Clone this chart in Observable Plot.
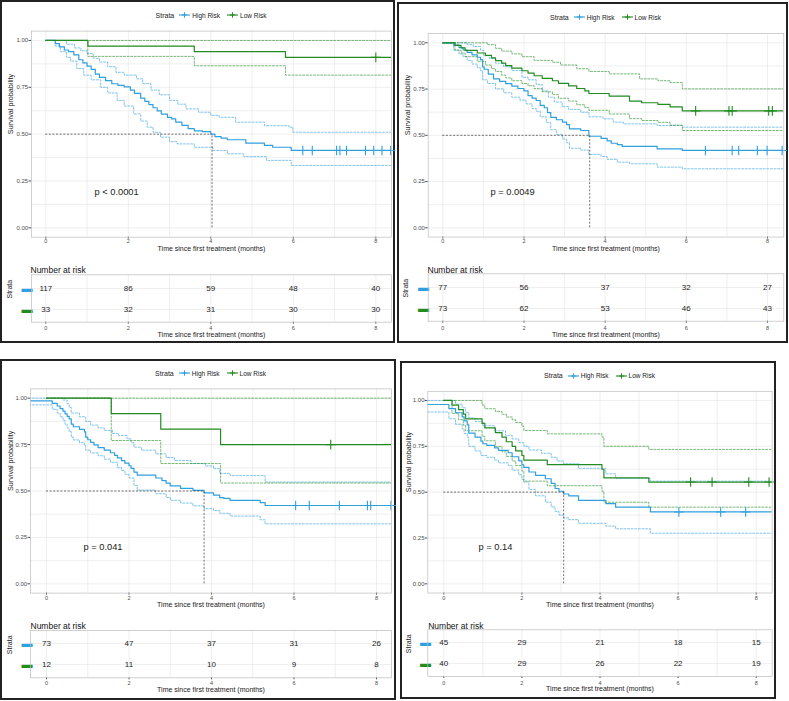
<!DOCTYPE html>
<html><head><meta charset="utf-8">
<script src="https://cdn.jsdelivr.net/npm/d3@7"></script>
<script src="https://cdn.jsdelivr.net/npm/@observablehq/plot@0.6"></script>
<style>
body{margin:0;background:#fff;font-family:"Liberation Sans",Arial,sans-serif;}
#root{position:relative;width:789px;height:701px;overflow:hidden;background:#fff;}
.box{position:absolute;border:2px solid #222;box-sizing:border-box;}
.pl{position:absolute;}
.leg{position:absolute;display:flex;align-items:center;justify-content:center;font-family:"Liberation Sans",Arial,sans-serif;color:#1a1a1a;}
</style></head><body><div id="root"></div>
<script>
// ---------- data ----------
const strata = ["High Risk", "Low Risk"];
const blue = "#2E9FDF", green = "#228B22";
const gridTimes = [0,1,2,3,4,5,6,7,8];
const gridSurv = [0,0.125,0.25,0.375,0.5,0.625,0.75,0.875,1];
const tickTimes = [0,2,4,6,8];
const tickSurv = [0,0.25,0.5,0.75,1];
const riskTimes = [0,2,4,6,8];
const pvals = ["p < 0.0001","p = 0.0049","p = 0.041","p = 0.14"];
const medians = [4.03, 3.62, 3.82, 3.07];

// Panel A
const aHigh = [[0,1],[0.23,0.983],[0.33,0.966],[0.45,0.949],[0.55,0.94],[0.68,0.923],[0.8,0.897],[0.9,0.88],[1.0,0.863],[1.1,0.846],[1.2,0.82],[1.3,0.803],[1.45,0.786],[1.6,0.769],[1.75,0.76],[1.9,0.752],[2.05,0.735],[2.15,0.718],[2.3,0.692],[2.4,0.675],[2.5,0.658],[2.6,0.641],[2.7,0.624],[2.8,0.607],[2.95,0.59],[3.05,0.581],[3.15,0.564],[3.3,0.547],[3.45,0.53],[3.6,0.517],[3.8,0.513],[4.0,0.5],[4.1,0.487],[4.25,0.479],[4.4,0.47],[4.85,0.452],[5.3,0.44],[5.5,0.43],[5.95,0.413],[8.6,0.413]];
const aHighUpper = [[0,1],[0.5,0.98],[0.7,0.96],[0.85,0.945],[1.0,0.93],[1.15,0.905],[1.3,0.885],[1.5,0.86],[1.7,0.83],[1.9,0.815],[2.2,0.795],[2.35,0.77],[2.55,0.735],[2.75,0.71],[3.0,0.68],[3.2,0.66],[3.4,0.635],[3.7,0.617],[4.0,0.6],[4.2,0.59],[4.6,0.564],[5.3,0.545],[5.9,0.537],[5.99,0.51],[8.6,0.51]];
const aHighLower = [[0,1],[0.23,0.97],[0.35,0.94],[0.5,0.91],[0.6,0.89],[0.75,0.85],[0.92,0.815],[1.1,0.79],[1.33,0.75],[1.5,0.72],[1.73,0.68],[1.9,0.65],[2.13,0.608],[2.3,0.57],[2.46,0.537],[2.6,0.51],[2.78,0.484],[3.0,0.46],[3.18,0.448],[3.6,0.43],[4.05,0.413],[4.4,0.395],[4.8,0.38],[5.35,0.36],[5.95,0.333],[8.6,0.333]];
const aLow = [[0,1],[1.02,0.97],[3.6,0.94],[5.81,0.91],[8.6,0.91]];
const aLowUpper = [[0,1],[8.6,1]];
const aLowLower = [[0,1],[1.02,0.915],[3.6,0.865],[5.81,0.815],[8.6,0.815]];
const aHighCensor = [6.23,6.46,7.05,7.13,7.29,7.75,7.95,8.15,8.36];
const aLowCensor = [8.0];
const aRiskHigh = [117,86,59,48,40];
const aRiskLow = [33,32,31,30,30];

// Panel B
const bHigh = [[0,1],[0.27,0.987],[0.4,0.974],[0.5,0.961],[0.6,0.948],[0.72,0.935],[0.85,0.922],[0.93,0.909],[0.98,0.87],[1.02,0.857],[1.12,0.831],[1.25,0.805],[1.4,0.792],[1.55,0.779],[1.7,0.766],[1.85,0.753],[2.0,0.74],[2.1,0.714],[2.2,0.701],[2.3,0.688],[2.4,0.662],[2.5,0.649],[2.58,0.623],[2.66,0.597],[2.8,0.584],[2.95,0.571],[3.05,0.558],[3.12,0.535],[3.4,0.526],[3.6,0.495],[3.9,0.483],[4.05,0.47],[4.15,0.457],[4.3,0.45],[4.42,0.44],[5.28,0.427],[5.9,0.418],[8.6,0.418]];
const bHighUpper = [[0,1],[0.6,0.99],[0.75,0.98],[0.93,0.96],[1.0,0.93],[1.15,0.915],[1.3,0.89],[1.5,0.87],[1.7,0.85],[1.95,0.814],[2.1,0.8],[2.3,0.775],[2.45,0.74],[2.6,0.706],[2.75,0.68],[2.94,0.655],[3.1,0.64],[3.4,0.625],[3.6,0.6],[3.95,0.589],[4.2,0.571],[4.45,0.562],[5.28,0.553],[5.9,0.544],[8.6,0.544]];
const bHighLower = [[0,1],[0.27,0.96],[0.4,0.94],[0.5,0.925],[0.6,0.905],[0.72,0.885],[0.85,0.865],[0.93,0.85],[0.98,0.8],[1.1,0.78],[1.3,0.751],[1.5,0.73],[1.7,0.706],[1.9,0.69],[2.05,0.67],[2.2,0.645],[2.3,0.63],[2.4,0.6],[2.55,0.57],[2.66,0.53],[2.8,0.505],[2.95,0.48],[3.05,0.46],[3.12,0.43],[3.4,0.42],[3.6,0.396],[3.9,0.385],[4.05,0.37],[4.3,0.355],[4.6,0.346],[5.28,0.328],[5.9,0.319],[8.6,0.319]];
const bLow = [[0,1],[0.3,0.986],[0.45,0.973],[0.55,0.959],[0.85,0.945],[1.05,0.932],[1.2,0.918],[1.3,0.904],[1.45,0.89],[1.55,0.877],[1.7,0.863],[1.95,0.849],[2.1,0.836],[2.25,0.822],[2.45,0.808],[2.7,0.795],[2.85,0.781],[3.1,0.767],[3.3,0.753],[3.5,0.74],[3.6,0.726],[4.1,0.712],[4.6,0.685],[4.9,0.676],[5.3,0.667],[5.6,0.654],[5.9,0.632],[8.6,0.632]];
const bLowUpper = [[0,1],[1.1,0.99],[1.3,0.97],[1.45,0.955],[1.7,0.94],[1.95,0.925],[2.25,0.905],[2.7,0.895],[2.9,0.88],[3.3,0.86],[3.6,0.845],[4.1,0.832],[4.85,0.805],[5.3,0.795],[5.6,0.785],[5.9,0.751],[8.6,0.751]];
const bLowLower = [[0,1],[0.3,0.96],[0.45,0.945],[0.55,0.925],[0.85,0.9],[1.05,0.88],[1.2,0.86],[1.3,0.845],[1.45,0.825],[1.55,0.81],[1.7,0.795],[1.95,0.78],[2.1,0.768],[2.25,0.752],[2.45,0.735],[2.7,0.72],[2.85,0.7],[3.1,0.685],[3.3,0.665],[3.5,0.65],[3.6,0.635],[4.1,0.615],[4.6,0.59],[4.9,0.58],[5.3,0.57],[5.6,0.555],[5.9,0.526],[8.6,0.526]];
const bHighCensor = [6.47,7.13,7.29,7.75,7.99,8.36];
const bLowCensor = [6.23,7.05,7.13,8.03,8.12];
const bRiskHigh = [77,56,37,32,27];
const bRiskLow = [73,62,53,46,43];

// Panel C
const cHigh = [[-0.6,0.986],[0.14,0.972],[0.26,0.958],[0.33,0.944],[0.4,0.93],[0.45,0.916],[0.5,0.902],[0.55,0.888],[0.6,0.86],[0.65,0.846],[0.8,0.832],[0.92,0.818],[0.95,0.79],[1.0,0.776],[1.07,0.762],[1.15,0.748],[1.25,0.734],[1.4,0.72],[1.55,0.706],[1.65,0.692],[1.72,0.678],[1.82,0.664],[1.9,0.65],[2.0,0.636],[2.05,0.622],[2.12,0.602],[2.2,0.585],[2.65,0.57],[2.8,0.556],[2.9,0.542],[3.0,0.528],[3.25,0.514],[3.55,0.503],[3.82,0.49],[4.05,0.478],[4.2,0.464],[4.3,0.46],[4.45,0.449],[5.18,0.437],[5.3,0.422],[8.6,0.422]];
const cHighUpper = [[-0.6,1],[0.4,0.99],[0.5,0.97],[0.55,0.95],[0.6,0.92],[0.8,0.9],[0.95,0.875],[1.07,0.855],[1.25,0.84],[1.4,0.826],[1.6,0.81],[1.75,0.799],[1.95,0.781],[2.05,0.76],[2.12,0.736],[2.3,0.72],[2.65,0.7],[2.9,0.68],[3.1,0.664],[3.5,0.648],[3.85,0.635],[4.05,0.62],[4.2,0.595],[4.45,0.583],[5.3,0.548],[8.6,0.548]];
const cHighLower = [[-0.6,0.964],[0.14,0.94],[0.26,0.92],[0.33,0.9],[0.4,0.88],[0.45,0.86],[0.5,0.84],[0.55,0.82],[0.6,0.79],[0.65,0.775],[0.8,0.76],[0.92,0.745],[0.95,0.72],[1.07,0.705],[1.25,0.69],[1.4,0.672],[1.55,0.655],[1.72,0.625],[1.82,0.61],[1.9,0.59],[2.0,0.57],[2.12,0.53],[2.2,0.505],[2.65,0.485],[2.9,0.465],[3.0,0.45],[3.25,0.435],[3.55,0.42],[3.82,0.405],[4.05,0.395],[4.2,0.38],[4.45,0.365],[5.18,0.345],[5.3,0.323],[8.6,0.323]];
const cLow = [[0,1],[1.57,0.917],[2.77,0.833],[4.22,0.75],[8.6,0.75]];
const cLowUpper = [[0,1],[8.6,1]];
const cLowLower = [[0,1],[1.57,0.772],[2.77,0.648],[4.22,0.543],[8.6,0.543]];
const cHighCensor = [6.04,6.37,7.1,7.78,7.86,8.35];
const cLowCensor = [6.89];
const cRiskHigh = [73,47,37,31,26];
const cRiskLow = [12,11,10,9,8];

// Panel D
const dHigh = [[-0.6,0.978],[0.13,0.956],[0.3,0.933],[0.47,0.911],[0.52,0.889],[0.6,0.867],[0.64,0.822],[0.8,0.8],[0.95,0.778],[1.0,0.764],[1.1,0.755],[1.3,0.742],[1.4,0.728],[1.65,0.715],[1.75,0.693],[1.92,0.671],[2.0,0.649],[2.05,0.635],[2.18,0.61],[2.35,0.592],[2.6,0.573],[2.75,0.548],[2.85,0.52],[2.95,0.505],[3.07,0.49],[3.2,0.48],[3.45,0.455],[4.15,0.437],[4.4,0.418],[5.29,0.392],[8.6,0.392]];
const dHighUpper = [[-0.6,1],[0.3,0.98],[0.47,0.96],[0.56,0.935],[0.64,0.905],[0.8,0.885],[1.0,0.862],[1.3,0.835],[1.58,0.81],[1.75,0.79],[1.92,0.77],[2.05,0.75],[2.18,0.73],[2.5,0.712],[2.75,0.69],[2.9,0.67],[3.07,0.655],[3.45,0.63],[4.15,0.6],[4.4,0.575],[5.29,0.56],[8.6,0.56]];
const dHighLower = [[-0.6,0.937],[0.13,0.9],[0.3,0.87],[0.47,0.845],[0.52,0.82],[0.6,0.8],[0.64,0.75],[0.8,0.725],[0.95,0.7],[1.1,0.69],[1.3,0.675],[1.4,0.66],[1.65,0.645],[1.75,0.62],[1.92,0.595],[2.0,0.57],[2.05,0.555],[2.18,0.515],[2.35,0.48],[2.6,0.445],[2.75,0.42],[2.85,0.395],[2.95,0.375],[3.07,0.36],[3.2,0.35],[3.45,0.33],[4.15,0.315],[4.4,0.3],[5.29,0.276],[8.6,0.276]];
const dLow = [[0,1],[0.21,0.975],[0.38,0.95],[0.5,0.925],[0.56,0.9],[0.98,0.875],[1.05,0.85],[1.32,0.825],[1.49,0.8],[1.6,0.775],[1.75,0.75],[1.84,0.725],[2.0,0.7],[2.05,0.675],[2.65,0.65],[4.05,0.625],[4.1,0.578],[5.25,0.555],[8.6,0.555]];
const dLowUpper = [[0,1],[0.98,0.975],[1.05,0.955],[1.32,0.94],[1.49,0.925],[1.6,0.91],[1.75,0.895],[1.84,0.88],[2.0,0.86],[2.05,0.836],[2.65,0.818],[4.05,0.8],[4.1,0.75],[5.25,0.733],[8.6,0.733]];
const dLowLower = [[0,1],[0.21,0.93],[0.38,0.895],[0.5,0.865],[0.56,0.835],[0.98,0.805],[1.05,0.78],[1.32,0.75],[1.49,0.72],[1.6,0.695],[1.75,0.67],[1.84,0.645],[2.0,0.615],[2.05,0.56],[2.65,0.535],[4.05,0.505],[4.1,0.445],[5.25,0.418],[8.6,0.418]];
const dHighCensor = [6.02,7.09,7.73];
const dLowCensor = [6.32,6.87,7.81,8.33];
const dRiskHigh = [45,29,21,18,15];
const dRiskLow = [40,29,26,22,19];

// ---------- layout (pixels) ----------
const geoms = [
 {box:[0,0,395,343], x0:45.3, x8:375.3, plotL:31, plotR:391, plotT:30.6, plotB:236.7, legendY:15, yTitleX:9.7, xTickY:240.7, xTitleY:250.9, narY:266, narX:30, tabT:274.3, tabB:321.7, tabTickY:328.0, tabTitleY:336.3, strataX:9.3, barX:21, pX:94, pY:191.7},
 {box:[397,2,788,343], x0:442.3, x8:767, plotL:427.7, plotR:783.3, plotT:33.05, plotB:236.55, legendY:17.3, yTitleX:406.7, xTickY:240.9, xTitleY:250.9, narY:266, narX:427, tabT:273.3, tabB:320.7, tabTickY:328.0, tabTitleY:336.3, strataX:405, barX:417.5, pX:490, pY:191.7},
 {box:[0,359,396,700], x0:46, x8:376, plotL:30, plotR:391, plotT:388.4, plotB:592.6, legendY:373.3, yTitleX:10, xTickY:598.0, xTitleY:606.3, narY:622.3, narX:30, tabT:630, tabB:677.3, tabTickY:683.0, tabTitleY:691, strataX:9.3, barX:21, pX:83, pY:547},
 {box:[400,361,776,699], x0:443.3, x8:755.7, plotL:427.3, plotR:771.7, plotT:390.8, plotB:592.5, legendY:375.7, yTitleX:408.3, xTickY:598.0, xTitleY:606.3, narY:622.3, narX:427.7, tabT:629.3, tabB:676, tabTickY:683.0, tabTitleY:690.5, strataX:408.3, barX:419.5, pX:478, pY:547}
];

const panels = [
 {high:aHigh, highUp:aHighUpper, highLo:aHighLower, low:aLow, lowUp:aLowUpper, lowLo:aLowLower, censHigh:aHighCensor, censLow:aLowCensor, riskHigh:aRiskHigh, riskLow:aRiskLow},
 {high:bHigh, highUp:bHighUpper, highLo:bHighLower, low:bLow, lowUp:bLowUpper, lowLo:bLowLower, censHigh:bHighCensor, censLow:bLowCensor, riskHigh:bRiskHigh, riskLow:bRiskLow},
 {high:cHigh, highUp:cHighUpper, highLo:cHighLower, low:cLow, lowUp:cLowUpper, lowLo:cLowLower, censHigh:cHighCensor, censLow:cLowCensor, riskHigh:cRiskHigh, riskLow:cRiskLow},
 {high:dHigh, highUp:dHighUpper, highLo:dHighLower, low:dLow, lowUp:dLowUpper, lowLo:dLowLower, censHigh:dHighCensor, censLow:dLowCensor, riskHigh:dRiskHigh, riskLow:dRiskLow}
];

const FONT = "Liberation Sans, Arial, sans-serif";
const root = document.getElementById("root");

function rows(arr, group, kind) { return arr.map(([t, s]) => ({t, s, group, key: group + kind})); }
function survAt(arr, t) { let s = arr[0][1]; for (const [tt, ss] of arr) if (tt <= t) s = ss; return s; }

function place(el, left, top) { el.classList.add("pl"); el.style.left = left + "px"; el.style.top = top + "px"; root.appendChild(el); }

function mainPlot(P, G, i) {
  const k = (G.x8 - G.x0) / 8;
  const svgL = G.box[0] + 2, svgR = G.box[2] - 2;
  const svgT = Math.floor(G.plotT - 9), svgB = Math.ceil(G.xTitleY + 6);
  const ci = [...rows(P.highUp, strata[0], "u"), ...rows(P.highLo, strata[0], "l"), ...rows(P.lowUp, strata[1], "u"), ...rows(P.lowLo, strata[1], "l")];
  const curves = [...rows(P.high, strata[0], "c"), ...rows(P.low, strata[1], "c")];
  const cens = [...P.censHigh.map(t => ({t, s: survAt(P.high, t), group: strata[0]})), ...P.censLow.map(t => ({t, s: survAt(P.low, t), group: strata[1]}))];
  const med = [{m: medians[i]}];
  const pT = (G.pX - G.x0) / k;
  const y0 = G.plotB - (G.plotB - G.plotT) * 0.05 / 1.1, y1 = G.plotT + (G.plotB - G.plotT) * 0.05 / 1.1;
  const pS = (y0 - G.pY) / (y0 - y1);
  const tickPad = Math.max(0, G.xTickY - G.plotB - 2 - 2.6);
  const chart = Plot.plot({
    width: svgR - svgL, height: svgB - svgT,
    marginLeft: G.plotL - svgL, marginRight: svgR - G.plotR, marginTop: G.plotT - svgT, marginBottom: svgB - G.plotB,
    x: {domain: [(G.plotL - G.x0) / k, (G.plotR - G.x0) / k]},
    y: {domain: [-0.05, 1.05]},
    color: {domain: strata, range: [blue, green]},
    style: {fontFamily: FONT, color: "#4d4d4d", background: "transparent", overflow: "visible"},
    marks: [
      Plot.ruleX(gridTimes, {stroke: "#e4e4e4", strokeWidth: 0.6}),
      Plot.ruleY(gridSurv, {stroke: "#e4e4e4", strokeWidth: 0.6}),
      Plot.line(ci, {x: "t", y: "s", z: "key", stroke: "group", curve: "step-after", strokeWidth: 0.75, strokeDasharray: "2,1.6", strokeOpacity: 0.8, clip: true}),
      Plot.line(curves, {x: "t", y: "s", z: "key", stroke: "group", curve: "step-after", strokeWidth: 1.2, clip: true}),
      Plot.dot(cens, {x: "t", y: "s", stroke: "group", symbol: "plus", r: 3.2, strokeWidth: 1.1}),
      Plot.ruleY(med, {y: () => 0.5, x1: () => 0, x2: "m", stroke: "#333", strokeWidth: 0.7, strokeDasharray: "2,1.6"}),
      Plot.ruleX(med, {x: "m", y1: () => 0, y2: () => 0.5, stroke: "#333", strokeWidth: 0.7, strokeDasharray: "2,1.6"}),
      Plot.text([pvals[i]], {x: () => pT, y: () => pS, text: d => d, textAnchor: "start", fontSize: 9.3, fill: "#1a1a1a"}),
      Plot.axisX({ticks: tickTimes, tickSize: 2, tickPadding: tickPad, fontSize: 5.5, label: null}),
      Plot.axisY({ticks: tickSurv, tickFormat: d3.format(".2f"), tickSize: 2.5, tickPadding: 0.8, fontSize: 6, label: null}),
      Plot.text(["Survival probability"], {frameAnchor: "left", rotate: -90, dx: G.yTitleX - G.plotL, text: d => d, fontSize: 7.2, fill: "#1a1a1a"}),
      Plot.text(["Time since first treatment (months)"], {frameAnchor: "bottom", dy: G.xTitleY - G.plotB, text: d => d, fontSize: 7, fill: "#1a1a1a"}),
      Plot.frame({stroke: "#bdbdbd", strokeWidth: 0.7})
    ]
  });
  place(chart, svgL, svgT);
}

function tablePlot(P, G) {
  const k = (G.x8 - G.x0) / 8;
  const svgL = G.box[0] + 2, svgR = G.box[2] - 2;
  const svgT = Math.floor(G.narY - 8), svgB = Math.ceil(G.tabTitleY + 6);
  const data = [...riskTimes.map((t, j) => ({t, group: strata[0], n: P.riskHigh[j]})), ...riskTimes.map((t, j) => ({t, group: strata[1], n: P.riskLow[j]}))];
  const tickPad = Math.max(0, G.tabTickY - G.tabB - 2 - 2.6);
  const chart = Plot.plot({
    width: svgR - svgL, height: svgB - svgT,
    marginLeft: G.plotL - svgL, marginRight: svgR - G.plotR, marginTop: G.tabT - svgT, marginBottom: svgB - G.tabB,
    x: {domain: [(G.plotL - G.x0) / k, (G.plotR - G.x0) / k]},
    y: {type: "point", domain: strata, padding: 0.6, axis: null},
    color: {domain: strata, range: [blue, green]},
    style: {fontFamily: FONT, color: "#4d4d4d", background: "transparent", overflow: "visible"},
    marks: [
      Plot.ruleX(gridTimes, {stroke: "#e4e4e4", strokeWidth: 0.6}),
      Plot.ruleY(strata, {y: d => d, stroke: "#e4e4e4", strokeWidth: 0.6}),
      Plot.text(data, {x: "t", y: "group", text: d => String(d.n), fontSize: 8, fill: "#1a1a1a"}),
      Plot.text(strata, {y: d => d, text: () => "\u25AC", frameAnchor: "left", dx: G.barX - G.plotL, fill: d => d, fontSize: 11}),
      Plot.text(["Strata"], {frameAnchor: "left", rotate: -90, dx: G.strataX - G.plotL, text: d => d, fontSize: 7, fill: "#1a1a1a"}),
      Plot.text(["Number at risk"], {frameAnchor: "top-left", textAnchor: "start", dx: G.narX - G.plotL, dy: G.narY - G.tabT, text: d => d, fontSize: 8.5, fill: "#111"}),
      Plot.axisX({ticks: tickTimes, tickSize: 2, tickPadding: tickPad, fontSize: 5.5, label: null}),
      Plot.text(["Time since first treatment (months)"], {frameAnchor: "bottom", dy: G.tabTitleY - G.tabB, text: d => d, fontSize: 7, fill: "#1a1a1a"}),
      Plot.frame({stroke: "#bdbdbd", strokeWidth: 0.7})
    ]
  });
  place(chart, svgL, svgT);
}

function legend(G) {
  const div = document.createElement("div");
  div.className = "leg";
  div.style.left = G.plotL + "px";
  div.style.width = (G.plotR - G.plotL) + "px";
  div.style.top = (G.legendY - 6) + "px";
  div.style.height = "12px";
  const sw = c => `<svg width="11" height="8" style="display:block"><line x1="0" x2="11" y1="4" y2="4" stroke="${c}" stroke-width="1.1"/><line x1="5.5" x2="5.5" y1="1.3" y2="6.7" stroke="${c}" stroke-width="1"/><line x1="2.8" x2="8.2" y1="4" y2="4" stroke="${c}" stroke-width="1"/></svg>`;
  div.innerHTML = `<span style="font-size:7px;margin-right:5px">Strata</span>` +
    sw(blue) + `<span style="font-size:6.5px;margin:0 7px 0 2px">${strata[0]}</span>` +
    sw(green) + `<span style="font-size:6.5px;margin:0 0 0 2px">${strata[1]}</span>`;
  root.appendChild(div);
}

geoms.forEach((G, i) => {
  const b = document.createElement("div");
  b.className = "box";
  b.style.left = G.box[0] + "px"; b.style.top = G.box[1] + "px";
  b.style.width = (G.box[2] - G.box[0]) + "px"; b.style.height = (G.box[3] - G.box[1]) + "px";
  root.appendChild(b);
  mainPlot(panels[i], G, i);
  tablePlot(panels[i], G);
  legend(G);
});
</script></body></html>
